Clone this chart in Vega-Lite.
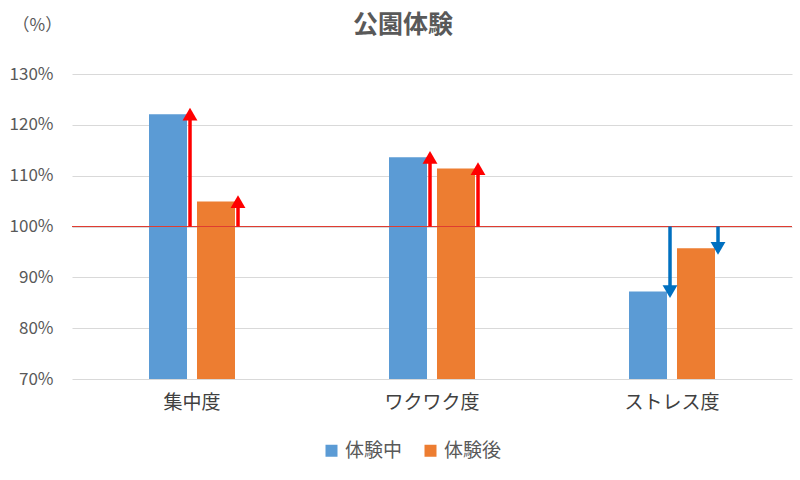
{
  "$schema": "https://vega.github.io/schema/vega-lite/v6.json",
  "width": 720,
  "height": 305,
  "autosize": "none",
  "padding": {"left": 72, "top": 74, "right": 8, "bottom": 101},
  "background": "white",
  "title": {
    "text": "公園体験",
    "fontSize": 25,
    "fontWeight": "bold",
    "color": "#595959",
    "font": "Noto Sans CJK JP",
    "anchor": "middle",
    "dx": -29,
    "offset": -22
  },
  "data": {
    "values": [
      {"項目": "集中度", "系列": "体験中", "値": 122.1},
      {"項目": "集中度", "系列": "体験後", "値": 104.9},
      {"項目": "ワクワク度", "系列": "体験中", "値": 113.6},
      {"項目": "ワクワク度", "系列": "体験後", "値": 111.4},
      {"項目": "ストレス度", "系列": "体験中", "値": 87.2},
      {"項目": "ストレス度", "系列": "体験後", "値": 95.7}
    ]
  },
  "encoding": {
    "x": {
      "field": "項目",
      "type": "nominal",
      "sort": ["集中度", "ワクワク度", "ストレス度"],
      "scale": {"paddingInner": 0, "paddingOuter": 0},
      "axis": {
        "title": null,
        "labelAngle": 0,
        "ticks": false,
        "domain": false,
        "labelFontSize": 19,
        "labelFontWeight": "normal",
        "labelColor": "#404040",
        "labelPadding": 14,
        "labelFont": "Noto Sans CJK JP"
      }
    }
  },
  "layer": [
    {
      "mark": {"type": "bar"},
      "encoding": {
        "xOffset": {
          "field": "系列",
          "type": "nominal",
          "sort": ["体験中", "体験後"],
          "scale": {"range": [77, 163], "paddingInner": 0.2083, "paddingOuter": 0}
        },
        "y": {
          "field": "値",
          "type": "quantitative",
          "scale": {"domain": [70, 130], "nice": false, "zero": false},
          "axis": {
            "title": "（%）",
            "titleAngle": 0,
            "titleAlign": "left",
            "titleBaseline": "middle",
            "titleX": -60,
            "titleY": -49,
            "titleFontSize": 17,
            "titleFontWeight": "normal",
            "titleColor": "#595959",
            "titleFont": "Noto Sans CJK JP",
            "values": [70, 80, 90, 100, 110, 120, 130],
            "labelExpr": "datum.value + '%'",
            "labelFontSize": 17,
            "labelColor": "#595959",
            "labelFont": "Noto Sans CJK JP",
            "labelPadding": 19,
            "ticks": false,
            "domain": false,
            "grid": true,
            "gridColor": "#D9D9D9",
            "gridWidth": 1.2
          }
        },
        "y2": {"datum": 70},
        "color": {
          "field": "系列",
          "type": "nominal",
          "sort": ["体験中", "体験後"],
          "scale": {"domain": ["体験中", "体験後"], "range": ["#5B9BD5", "#ED7D31"]},
          "legend": {
            "title": null,
            "orient": "none",
            "legendX": 250,
            "legendY": 367,
            "direction": "horizontal",
            "symbolType": "square",
            "symbolSize": 144,
            "symbolStrokeWidth": 0,
            "labelFontSize": 19,
            "labelFontWeight": "normal",
            "labelColor": "#595959",
            "labelFont": "Noto Sans CJK JP",
            "labelOffset": 4,
            "columnPadding": 18
          }
        }
      }
    },
    {
      "mark": {"type": "rule", "color": "#E03C31", "strokeWidth": 1.2},
      "encoding": {
        "x": {"value": 0},
        "x2": {"value": 720},
        "y": {"datum": 100, "type": "quantitative"}
      }
    },
    {
      "transform": [{"filter": "datum['系列'] == '体験中'"}],
      "mark": {"type": "rule", "strokeWidth": 3.5},
      "encoding": {
        "x": {"field": "項目", "type": "nominal", "sort": ["集中度", "ワクワク度", "ストレス度"], "bandPosition": 0.4917},
        "y": {"field": "値", "type": "quantitative"},
        "y2": {"datum": 100},
        "color": {"condition": {"test": "datum['値'] < 100", "value": "#0070C0"}, "value": "#FF0000"}
      }
    },
    {
      "transform": [{"filter": "datum['系列'] == '体験中'"}],
      "mark": {"type": "point", "filled": true, "opacity": 1, "size": 220},
      "encoding": {
        "x": {"field": "項目", "type": "nominal", "sort": ["集中度", "ワクワク度", "ストレス度"], "bandPosition": 0.4917},
        "y": {"field": "値", "type": "quantitative"},
        "shape": {"condition": {"test": "datum['値'] < 100", "value": "triangle-down"}, "value": "triangle-up"},
        "color": {"condition": {"test": "datum['値'] < 100", "value": "#0070C0"}, "value": "#FF0000"}
      }
    },
    {
      "transform": [{"filter": "datum['系列'] == '体験後'"}],
      "mark": {"type": "rule", "strokeWidth": 3.5},
      "encoding": {
        "x": {"field": "項目", "type": "nominal", "sort": ["集中度", "ワクワク度", "ストレス度"], "bandPosition": 0.6917},
        "y": {"field": "値", "type": "quantitative"},
        "y2": {"datum": 100},
        "color": {"condition": {"test": "datum['値'] < 100", "value": "#0070C0"}, "value": "#FF0000"}
      }
    },
    {
      "transform": [{"filter": "datum['系列'] == '体験後'"}],
      "mark": {"type": "point", "filled": true, "opacity": 1, "size": 220},
      "encoding": {
        "x": {"field": "項目", "type": "nominal", "sort": ["集中度", "ワクワク度", "ストレス度"], "bandPosition": 0.6917},
        "y": {"field": "値", "type": "quantitative"},
        "shape": {"condition": {"test": "datum['値'] < 100", "value": "triangle-down"}, "value": "triangle-up"},
        "color": {"condition": {"test": "datum['値'] < 100", "value": "#0070C0"}, "value": "#FF0000"}
      }
    }
  ],
  "config": {
    "view": {"stroke": null},
    "font": "Noto Sans CJK JP"
  }
}
